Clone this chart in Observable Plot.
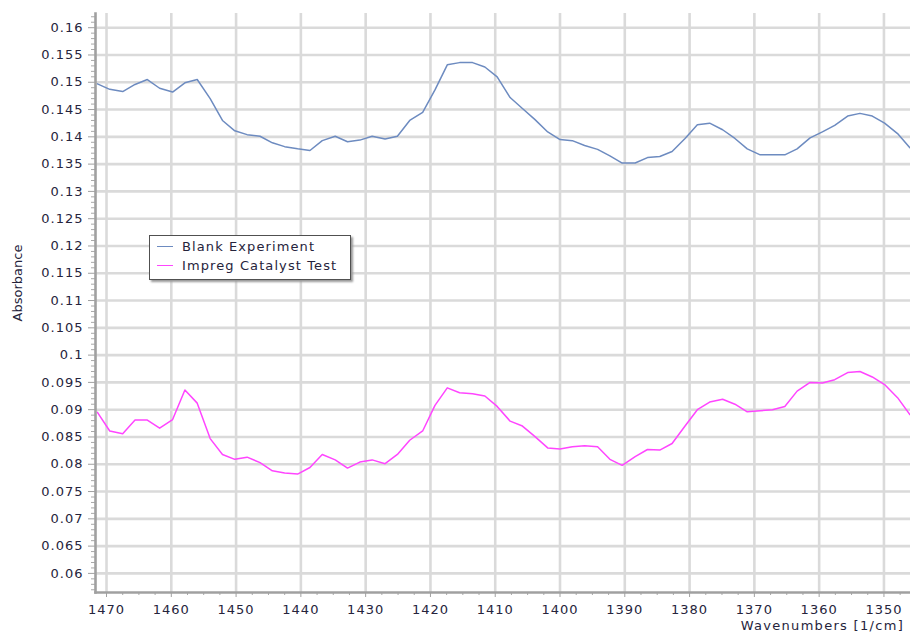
<!DOCTYPE html>
<html>
<head>
<meta charset="utf-8">
<script src="https://cdn.jsdelivr.net/npm/d3@7"></script>
<script src="https://cdn.jsdelivr.net/npm/@observablehq/plot@0.6"></script>
<style>
  html, body { margin: 0; padding: 0; background: #fff; }
  #wrap { position: relative; width: 910px; height: 634px; font-family: "DejaVu Sans", Verdana, sans-serif; }
  #wrap svg { position: absolute; left: 0; top: 0; }
  .legend { position: absolute; left: 149px; top: 235px; width: 202px; height: 45px; box-sizing: border-box;
    border: 1px solid #505050; background: #fff; box-shadow: 2px 2px 2px #999; font-size: 13px; color: #26243c; letter-spacing: 1.1px; }
  .legend .row { position: absolute; left: 7px; height: 16px; line-height: 16px; white-space: nowrap; }
  .legend .sw { display: inline-block; width: 16px; height: 0; border-top: 1.6px solid; vertical-align: middle; margin-right: 9px; position: relative; top: -1px; }
  .ylab { position: absolute; left: 17px; top: 283px; transform: translate(-50%, -50%) rotate(-90deg); font-size: 13px; color: #26243c; white-space: nowrap; }
  .xlab { position: absolute; right: 6px; top: 619px; height: 13px; line-height: 13px; font-size: 13px; color: #26243c; letter-spacing: 1.3px; white-space: nowrap; }
</style>
</head>
<body>
<div id="wrap"></div>
<script>
// Wavenumbers (1/cm)
const wavenumbers = [1471.4, 1469.5, 1467.5, 1465.6, 1463.7, 1461.8, 1459.8, 1457.9, 1456.0, 1454.0,
  1452.1, 1450.2, 1448.3, 1446.3, 1444.4, 1442.5, 1440.5, 1438.6, 1436.7, 1434.7,
  1432.8, 1430.9, 1429.0, 1427.0, 1425.1, 1423.2, 1421.2, 1419.3, 1417.4, 1415.5,
  1413.5, 1411.6, 1409.7, 1407.7, 1405.8, 1403.9, 1401.9, 1400.0, 1398.1, 1396.2,
  1394.2, 1392.3, 1390.4, 1388.4, 1386.5, 1384.6, 1382.7, 1380.7, 1378.8, 1376.9,
  1374.9, 1373.0, 1371.1, 1369.1, 1367.2, 1365.3, 1363.4, 1361.4, 1359.5, 1357.6,
  1355.6, 1353.7, 1351.8, 1349.9, 1347.9, 1346.0];

const blankExperiment = [0.1497, 0.1487, 0.1483, 0.1496, 0.1505, 0.1489, 0.1482, 0.1499, 0.1505, 0.1470,
  0.1430, 0.1411, 0.1404, 0.1401, 0.1389, 0.1382, 0.1378, 0.1375, 0.1393, 0.1401,
  0.1391, 0.1394, 0.1401, 0.1396, 0.1401, 0.1430, 0.1445, 0.1486, 0.1532, 0.1536,
  0.1536, 0.1528, 0.1510, 0.1472, 0.1452, 0.1432, 0.1409, 0.1395, 0.1393, 0.1384,
  0.1377, 0.1365, 0.1352, 0.1352, 0.1362, 0.1364, 0.1373, 0.1397, 0.1422, 0.1425,
  0.1413, 0.1397, 0.1378, 0.1367, 0.1367, 0.1367, 0.1378, 0.1398, 0.1409, 0.1421,
  0.1438, 0.1443, 0.1438, 0.1425, 0.1406, 0.1380];

const impregCatalystTest = [0.0895, 0.0861, 0.0856, 0.0881, 0.0881, 0.0866, 0.0882, 0.0936, 0.0912, 0.0847,
  0.0818, 0.0809, 0.0813, 0.0803, 0.0788, 0.0784, 0.0782, 0.0794, 0.0818, 0.0808,
  0.0793, 0.0804, 0.0808, 0.0801, 0.0818, 0.0844, 0.0861, 0.0908, 0.0940, 0.0931,
  0.0929, 0.0925, 0.0906, 0.0879, 0.0870, 0.0851, 0.0830, 0.0828, 0.0832, 0.0834,
  0.0832, 0.0809, 0.0798, 0.0814, 0.0827, 0.0826, 0.0838, 0.0870, 0.0900, 0.0914,
  0.0919, 0.0910, 0.0896, 0.0898, 0.0900, 0.0906, 0.0934, 0.0950, 0.0949, 0.0955,
  0.0968, 0.0970, 0.0960, 0.0946, 0.0922, 0.0891];

const seriesNames = ["Blank Experiment", "Impreg Catalyst Test"];
const seriesColors = ["#6d8bc0", "#ff45ff"];

const xTicks = [1470, 1460, 1450, 1440, 1430, 1420, 1410, 1400, 1390, 1380, 1370, 1360, 1350];
const yTicks = [0.06, 0.065, 0.07, 0.075, 0.08, 0.085, 0.09, 0.095, 0.1, 0.105, 0.11, 0.115, 0.12,
  0.125, 0.13, 0.135, 0.14, 0.145, 0.15, 0.155, 0.16];
const yTickLabels = ["0.06", "0.065", "0.07", "0.075", "0.08", "0.085", "0.09", "0.095", "0.1", "0.105", "0.11", "0.115", "0.12",
  "0.125", "0.13", "0.135", "0.14", "0.145", "0.15", "0.155", "0.16"];
const xLabel = "Wavenumbers [1/cm]";
const yLabel = "Absorbance";

const xDomain = [1471.7, 1345.9];
const yDomain = [0.0565, 0.1626];

const xMinor = d3.range(1347.5, 1471, 2.5).filter(v => Math.abs(v / 10 - Math.round(v / 10)) > 1e-6);
const yMinor = d3.range(57, 163, 1).map(v => v / 1000).filter(v => Math.abs(v * 200 - Math.round(v * 200)) > 1e-6);

const rows = [];
wavenumbers.forEach((w, i) => {
  rows.push({w, v: blankExperiment[i], s: seriesNames[0]});
});
wavenumbers.forEach((w, i) => {
  rows.push({w, v: impregCatalystTest[i], s: seriesNames[1]});
});

const labelMap = new Map(yTicks.map((t, i) => [t, yTickLabels[i]]));

const chart = Plot.plot({
  width: 910,
  height: 634,
  marginLeft: 95,
  marginRight: 0,
  marginTop: 13,
  marginBottom: 42,
  x: {domain: xDomain},
  y: {domain: yDomain},
  color: {domain: seriesNames, range: seriesColors},
  style: {fontFamily: "'DejaVu Sans', Verdana, sans-serif", fontSize: "13px", color: "#26243c", background: "white", letterSpacing: "1px"},
  marks: [
    Plot.ruleX(xTicks, {stroke: "#dadada", strokeWidth: 2.6}),
    Plot.ruleY(yTicks, {stroke: "#dadada", strokeWidth: 2.6}),
    Plot.line(rows, {x: "w", y: "v", z: "s", stroke: "s", strokeWidth: 1.5}),
    Plot.axisY(yMinor, {tickSize: 4, tickFormat: () => "", stroke: "#a8a8a8", label: null}),
    Plot.axisY(yTicks, {tickSize: 7, tickPadding: 5, tickFormat: d => labelMap.get(d), stroke: "#a0a0a0", label: null}),
    Plot.axisX(xMinor, {tickSize: 3, tickFormat: () => "", stroke: "#a8a8a8", label: null}),
    Plot.axisX(xTicks, {tickSize: 5, tickPadding: 7, tickFormat: d => String(d), stroke: "#a0a0a0", label: null}),
    Plot.frame({anchor: "left", stroke: "#a0a0a0", strokeWidth: 2.6}),
    Plot.frame({anchor: "bottom", stroke: "#a0a0a0", strokeWidth: 2.6})
  ]
});

const wrap = document.getElementById("wrap");
wrap.appendChild(chart);

const yl = document.createElement("div");
yl.className = "ylab";
yl.textContent = yLabel;
wrap.appendChild(yl);

const xl = document.createElement("div");
xl.className = "xlab";
xl.textContent = xLabel;
wrap.appendChild(xl);

const legend = document.createElement("div");
legend.className = "legend";
seriesNames.forEach((name, i) => {
  const row = document.createElement("div");
  row.className = "row";
  row.style.top = (3 + i * 19) + "px";
  const sw = document.createElement("span");
  sw.className = "sw";
  sw.style.borderColor = seriesColors[i];
  row.appendChild(sw);
  row.appendChild(document.createTextNode(name));
  legend.appendChild(row);
});
wrap.appendChild(legend);
</script>
</body>
</html>
